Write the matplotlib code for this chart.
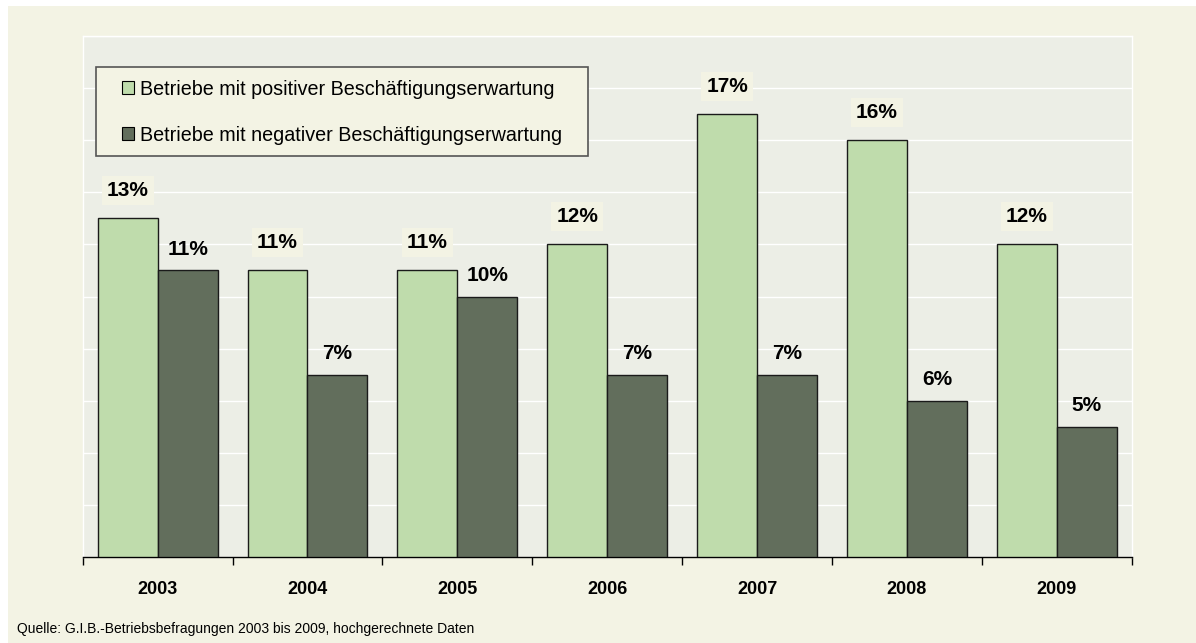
import matplotlib
matplotlib.use("Agg")
import matplotlib.pyplot as plt
from matplotlib.patches import Rectangle, Patch
import numpy as np

years = ["2003", "2004", "2005", "2006", "2007", "2008", "2009"]
positive = [13, 11, 11, 12, 17, 16, 12]
negative = [11, 7, 10, 7, 7, 6, 5]
series_names = ["Betriebe mit positiver Beschäftigungserwartung",
                "Betriebe mit negativer Beschäftigungserwartung"]
source = "Quelle: G.I.B.-Betriebsbefragungen 2003 bis 2009, hochgerechnete Daten"

plt.rcParams['font.family'] = ['Liberation Sans', 'DejaVu Sans']

W, H = 1196, 643
fig = plt.figure(figsize=(W / 100, H / 100), dpi=100, facecolor="white")
cream = "#F3F3E4"
fig.patches.append(Rectangle((8 / W, 0), 1 - 8 / W, 1 - 6 / H, transform=fig.transFigure,
                             facecolor=cream, edgecolor="none", zorder=-10))

AX_L, AX_R, AX_T, AX_B = 82.7, 1131.7, 36, 557
ax = fig.add_axes([AX_L / W, (H - AX_B) / H, (AX_R - AX_L) / W, (AX_B - AX_T) / H])
ax.set_zorder(1)
ax.set_facecolor("#ECEEE6")

def ax_frac(px, py):
    return (px - AX_L) / (AX_R - AX_L), 1 - (py - AX_T) / (AX_B - AX_T)

green = "#BFDCAC"
dark = "#626E5C"
x = np.arange(len(years))
bw = 0.4
ax.bar(x - bw / 2, positive, bw, color=green, edgecolor="#1a1a1a", linewidth=1.0, zorder=3)
ax.bar(x + bw / 2, negative, bw, color=dark, edgecolor="#1a1a1a", linewidth=1.0, zorder=3)

ax.set_xlim(-0.5, len(years) - 0.5)
ax.set_ylim(0, 20)
ax.set_yticks(np.arange(0, 21, 2))
ax.yaxis.grid(True, color="white", linewidth=1.0, zorder=0)
ax.set_axisbelow(True)
ax.tick_params(axis="y", left=False, labelleft=False)

ax.set_xticks(x)
ax.set_xticklabels(years, fontsize=13, fontweight="bold")
ax.tick_params(axis="x", which="major", length=0, pad=17)
ax.set_xticks(np.arange(-0.5, len(years), 1), minor=True)
ax.tick_params(axis="x", which="minor", length=6, width=1, color="black", direction="out")

for s in ["top", "left", "right"]:
    ax.spines[s].set_color("white")
    ax.spines[s].set_linewidth(1.0)
ax.spines["bottom"].set_color("black")
ax.spines["bottom"].set_linewidth(1.0)

for xi, v in zip(x, positive):
    ax.annotate(f"{v}%", (xi - bw / 2, v), xytext=(0, 20), textcoords="offset points",
                ha="center", va="center", fontsize=15, fontweight="bold", zorder=5,
                bbox=dict(boxstyle="square,pad=0.25", facecolor=cream, edgecolor="none"))
for xi, v in zip(x, negative):
    ax.annotate(f"{v}%", (xi + bw / 2, v), xytext=(0, 15), textcoords="offset points",
                ha="center", va="center", fontsize=15, fontweight="bold", zorder=5)

# legend frame
fx0, fy1 = ax_frac(95.7, 67)
fx1, fy0 = ax_frac(588, 156)
ax.add_patch(Rectangle((fx0, fy0), fx1 - fx0, fy1 - fy0, transform=ax.transAxes,
                       facecolor=cream, edgecolor="#555555", linewidth=1.2, zorder=6))

handles = [Patch(facecolor=green, edgecolor="black", linewidth=0.8),
           Patch(facecolor=dark, edgecolor="black", linewidth=0.8)]
lx, ly = ax_frac(121.7, 112.3)
leg = ax.legend(handles, series_names, loc="center left", bbox_to_anchor=(lx, ly),
                fontsize=14.2, frameon=False, handlelength=0.62, handleheight=0.62,
                handletextpad=0.3, labelspacing=1.37, borderpad=0, borderaxespad=0)
leg.set_zorder(7)

fig.text(17 / W, 1 - 629 / H, source, fontsize=10, ha="left", va="center")

fig.savefig("out.png", dpi=100, facecolor=fig.get_facecolor())
